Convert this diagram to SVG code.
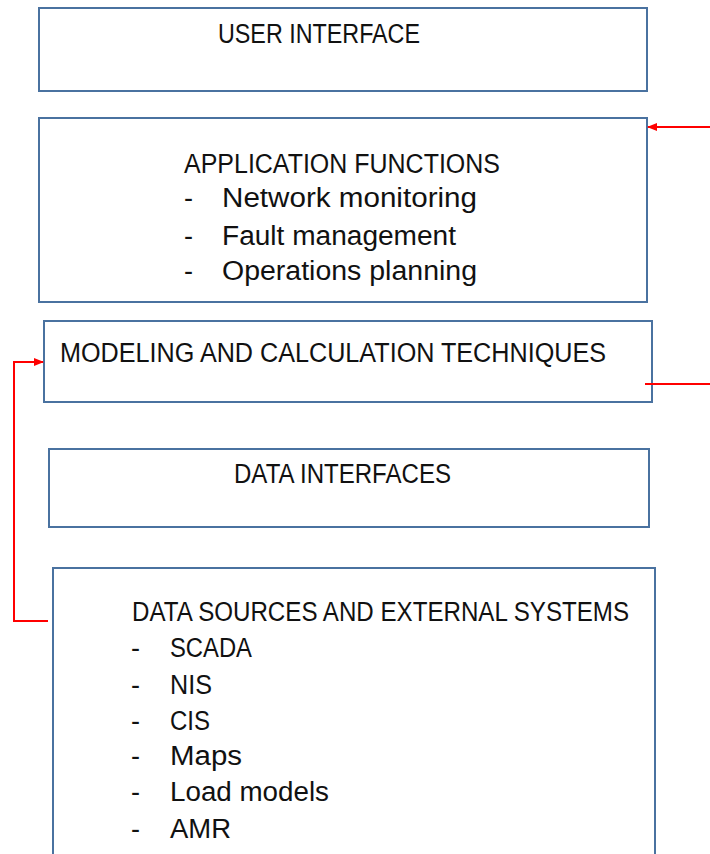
<svg xmlns="http://www.w3.org/2000/svg" width="710" height="854" viewBox="0 0 710 854">
<style>
.box{fill:#fff;stroke:#4a72a0;stroke-width:2}
.t{font-family:"Liberation Sans",Arial,sans-serif;font-size:27px;fill:#111}
.con{fill:none;stroke:#f00;stroke-width:2}
</style>
<defs>
<marker id="ah" markerWidth="10" markerHeight="10" refX="9" refY="5" orient="auto" markerUnits="userSpaceOnUse">
<path d="M0,1 L10,5 L0,9 Z" fill="#f00"/>
</marker>
</defs>
<rect width="710" height="854" fill="#fff"/>
<g id="user-interface">
<rect class="box" x="39" y="8" width="608" height="83"/>
<text class="t" x="218" y="43" textLength="202" lengthAdjust="spacingAndGlyphs">USER INTERFACE</text>
</g>
<g id="application-functions">
<rect class="box" x="39" y="118" width="608" height="184"/>
<text class="t" x="184" y="173" textLength="316" lengthAdjust="spacingAndGlyphs">APPLICATION FUNCTIONS</text>
<text class="t" x="184" y="207">-</text>
<text class="t" x="222" y="207" textLength="255" lengthAdjust="spacingAndGlyphs">Network monitoring</text>
<text class="t" x="184" y="245">-</text>
<text class="t" x="222" y="245" textLength="234" lengthAdjust="spacingAndGlyphs">Fault management</text>
<text class="t" x="184" y="280">-</text>
<text class="t" x="222" y="280" textLength="255" lengthAdjust="spacingAndGlyphs">Operations planning</text>
</g>
<g id="modeling">
<rect class="box" x="44" y="321" width="608" height="81"/>
<text class="t" x="60" y="362" textLength="546" lengthAdjust="spacingAndGlyphs">MODELING AND CALCULATION TECHNIQUES</text>
</g>
<g id="data-interfaces">
<rect class="box" x="49" y="449" width="600" height="78"/>
<text class="t" x="234" y="483" textLength="217" lengthAdjust="spacingAndGlyphs">DATA INTERFACES</text>
</g>
<g id="data-sources">
<rect class="box" x="53" y="568" width="602" height="300"/>
<text class="t" x="132" y="621" textLength="497" lengthAdjust="spacingAndGlyphs">DATA SOURCES AND EXTERNAL SYSTEMS</text>
<text class="t" x="131" y="657">-</text>
<text class="t" x="170" y="657" textLength="82" lengthAdjust="spacingAndGlyphs">SCADA</text>
<text class="t" x="131" y="694">-</text>
<text class="t" x="170" y="694" textLength="42" lengthAdjust="spacingAndGlyphs">NIS</text>
<text class="t" x="131" y="730">-</text>
<text class="t" x="170" y="730" textLength="40" lengthAdjust="spacingAndGlyphs">CIS</text>
<text class="t" x="131" y="765">-</text>
<text class="t" x="170" y="765" textLength="72" lengthAdjust="spacingAndGlyphs">Maps</text>
<text class="t" x="131" y="801">-</text>
<text class="t" x="170" y="801" textLength="159" lengthAdjust="spacingAndGlyphs">Load models</text>
<text class="t" x="131" y="838">-</text>
<text class="t" x="170" y="838" textLength="61" lengthAdjust="spacingAndGlyphs">AMR</text>
</g>
<g id="connectors">
<line class="con" x1="710" y1="127" x2="648" y2="127" marker-end="url(#ah)"/>
<line class="con" x1="645" y1="384" x2="710" y2="384"/>
<polyline class="con" points="48,621 14,621 14,362 43,362" marker-end="url(#ah)"/>
</g>
</svg>
